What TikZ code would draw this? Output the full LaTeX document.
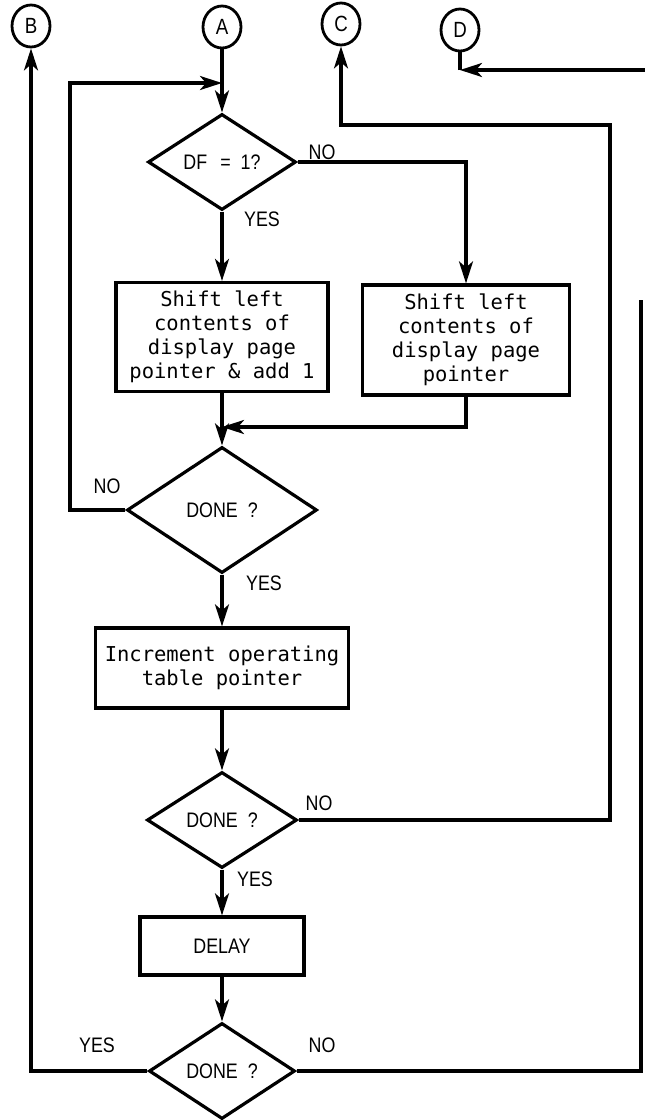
\documentclass[tikz,border=0pt]{standalone}
\usepackage{fontspec}
\setmainfont{Liberation Sans}
\newfontfamily\lblfont[FakeStretch=0.85]{Liberation Sans}
\newfontfamily\boxfont{DejaVu Sans Mono}
\usetikzlibrary{arrows.meta,shapes.geometric}
\begin{document}
\begin{tikzpicture}[x=1pt,y=-1pt,
  line width=3.2pt,
  conn/.style={draw, ellipse, line width=2.8pt, minimum width=38pt, minimum height=42pt, inner sep=0pt, font=\lblfont\fontsize{22}{22}\selectfont},
  dia/.style={draw, diamond, aspect=1.5, inner sep=0pt, font=\lblfont\fontsize{21}{21}\selectfont},
  proc/.style={draw, rectangle, inner sep=0pt, align=center, font=\boxfont\fontsize{20.5}{24}\selectfont},
  lbl/.style={font=\lblfont\fontsize{21}{21}\selectfont, inner sep=0pt},
  arr/.style={-{Stealth[length=22pt,width=14pt,inset=6pt]}}]
\useasboundingbox (0,0) rectangle (645,1120);

% connector circles
\node[conn] (B) at (31,26) {B};
\node[conn] (A) at (222,27) {A};
\node[conn] (C) at (341,24) {C};
\node[conn] (D) at (460,30) {D};

% decisions and processes
\node[dia, minimum width=148pt, minimum height=96pt] (d1) at (222,162) {DF\hspace{13pt}=\hspace{10pt}1?};
\node[proc, minimum width=212pt, minimum height=109pt] (b1) at (222,337) {Shift left\\contents of\\display page\\pointer \& add 1};
\node[proc, minimum width=207pt, minimum height=110pt] (b2) at (466,340) {Shift left\\contents of\\display page\\pointer};
\node[dia, minimum width=190pt, minimum height=126pt] (d2) at (222,510) {DONE\ \ ?};
\node[proc, minimum width=253pt, minimum height=80pt] (inc) at (222,668) {Increment operating\\table pointer};
\node[dia, minimum width=150pt, minimum height=96pt] (d3) at (222,820) {DONE\ \ ?};
\node[proc, minimum width=164pt, minimum height=58pt, font=\lblfont\fontsize{21}{21}\selectfont] (dl) at (222,946) {DELAY};
\node[dia, minimum width=146pt, minimum height=96pt] (d4) at (222,1071) {DONE\ \ ?};

% helper coordinates
\coordinate (J1) at (222,83);
\coordinate (lp1) at (70,83);
\coordinate (J2) at (222,427);
\coordinate (cC) at (610,125);
\coordinate (Dr) at (645,70);
\coordinate (Dc) at (460,70);
\coordinate (rEnd) at (641,300);

% connectors
\draw[arr] (A) -- (d1.north);
\draw[arr] (d2.west) -| (lp1) -- (J1);
\draw[arr] (d1.south) -- (b1.north);
\draw[arr] (d1.east) -| (b2.north);
\draw[arr] (b1.south) -- (d2.north);
\draw[arr] (b2.south) |- (J2);
\draw[arr] (d2.south) -- (inc.north);
\draw[arr] (inc.south) -- (d3.north);
\draw[arr] (d3.east) -| (cC) -| (C.south);
\draw[arr] (d3.south) -- (dl.north);
\draw[arr] (dl.south) -- (d4.north);
\draw[arr] (d4.west) -| (B.south);
\draw (d4.east) -| (rEnd);
\draw[arr] (Dr) -- (Dc);
\draw (Dc) -- (D.south);

% labels
\node[lbl] (n1) at (322,152) {NO};
\node[lbl] (y1) at (262,219) {YES};
\node[lbl] (n2) at (107,486) {NO};
\node[lbl] (y2) at (264,583) {YES};
\node[lbl] (n3) at (319,803) {NO};
\node[lbl] (y3) at (255,879) {YES};
\node[lbl] (y4) at (97,1045) {YES};
\node[lbl] (n4) at (322,1045) {NO};
\end{tikzpicture}
\end{document}
